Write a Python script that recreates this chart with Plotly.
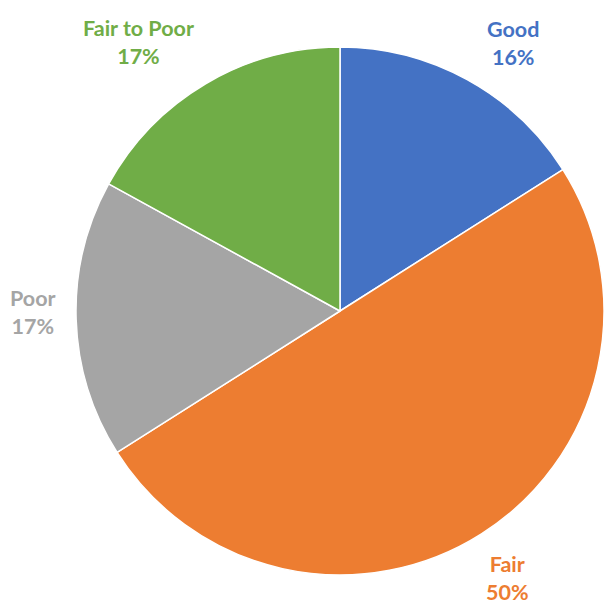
import plotly.graph_objects as go

# Condition ratings and their share of the total (percent)
categories = ["Good", "Fair", "Poor", "Fair to Poor"]
shares = [16, 50, 17, 17]
colors = ["#4472C4", "#ED7D31", "#A5A5A5", "#70AD47"]

# Where each outside label sits, in paper coordinates (x, y)
label_x = [513 / 606, 507 / 606, 33 / 606, 138 / 606]
label_y = [1 - 43 / 607, 1 - 578 / 607, 1 - 312 / 607, 1 - 42 / 607]

fig = go.Figure(
    go.Pie(
        labels=categories,
        values=shares,
        sort=False,
        direction="clockwise",
        rotation=0,
        textinfo="none",
        marker=dict(colors=colors, line=dict(color="white", width=1.5)),
        domain=dict(x=[76 / 606, 604 / 606], y=[1 - 575 / 607, 1 - 47 / 607]),
        showlegend=False,
    )
)

for cat, val, col, x, y in zip(categories, shares, colors, label_x, label_y):
    fig.add_annotation(
        x=x,
        y=y,
        xref="paper",
        yref="paper",
        xanchor="center",
        yanchor="middle",
        text=f"<b>{cat}<br>{val}%</b>",
        showarrow=False,
        align="center",
        borderpad=0,
        font=dict(family="Lato", size=21.5, color=col),
    )

fig.update_layout(
    width=606,
    height=607,
    margin=dict(l=0, r=0, t=0, b=0),
    paper_bgcolor="white",
    plot_bgcolor="white",
)

fig.write_html("out.html")
